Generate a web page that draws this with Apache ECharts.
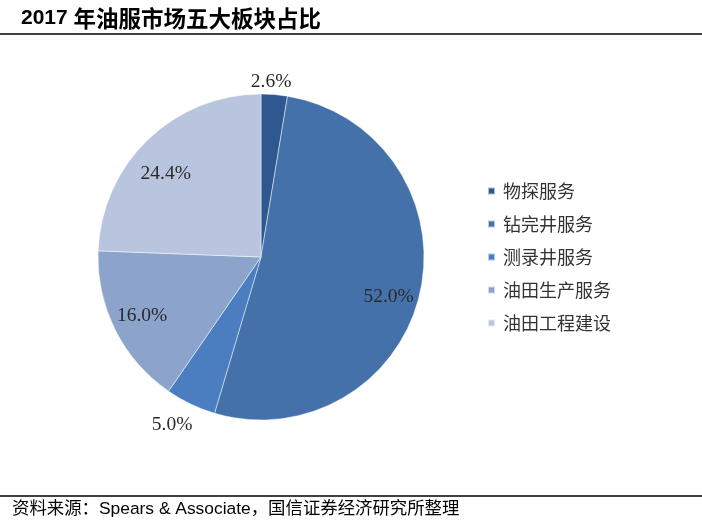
<!DOCTYPE html>
<html><head><meta charset="utf-8">
<script src="https://cdn.jsdelivr.net/npm/echarts@6/dist/echarts.min.js"></script>
<style>html,body{margin:0;padding:0;background:#fff}#c{width:702px;height:523px}</style>
</head><body><div id="c"></div>
<script>
const categories = ['物探服务', '钻完井服务', '测录井服务', '油田生产服务', '油田工程建设'];
const values = [2.6, 52.0, 5.0, 16.0, 24.4];
const labelText = ['2.6%', '52.0%', '5.0%', '16.0%', '24.4%'];
const colors = ['#2E5890', '#4471A9', '#4B7EC0', '#8CA3CC', '#B9C5DF'];
const outsideIdx = [0, 2];
const labelOffsets = [[-5, 9], [-2, 10], [-9, 1], [0, -1], [-3, 13]];

const chart = echarts.init(document.getElementById('c'));
const center = [261, 257];
const baseData = categories.map((n, i) => ({ name: n, value: values[i] }));
const labelFont = { fontFamily: 'Liberation Serif, Times New Roman, serif', fontSize: 19.5, color: '#2a2a2a' };

chart.setOption({
  animation: false,
  color: colors,
  title: {
    text: '{a|2017 }{b|年油服市场五大板块占比}',
    left: 16, top: 2,
    textStyle: {
      rich: {
        a: { fontFamily: 'Liberation Sans', fontSize: 21, fontWeight: 'bold', color: '#000' },
        b: { fontFamily: 'Noto Sans CJK SC', fontSize: 22.5, fontWeight: 'bold', color: '#000' }
      }
    }
  },
  legend: {
    orient: 'vertical',
    left: 482, top: 177,
    icon: 'rect',
    itemWidth: 7, itemHeight: 7,
    itemGap: 15,
    data: categories,
    textStyle: { fontFamily: 'Noto Sans CJK SC', fontSize: 18, color: '#333', padding: [0, 0, 0, 3] }
  },
  graphic: [
    { type: 'line', shape: { x1: 0, y1: 34, x2: 702, y2: 34 }, style: { stroke: '#000', lineWidth: 1.5 } },
    { type: 'line', shape: { x1: 0, y1: 496, x2: 702, y2: 496 }, style: { stroke: '#000', lineWidth: 1.5 } },
    { type: 'text', left: 12, top: 501, style: { text: '资料来源：Spears & Associate，国信证券经济研究所整理', font: '17.4px Liberation Sans, Noto Sans CJK SC', fill: '#000' } }
  ],
  series: [
    {
      type: 'pie', center: center, radius: 163, startAngle: 90, clockwise: true,
      label: { show: false }, labelLine: { show: false },
      itemStyle: { borderColor: 'rgba(255,255,255,0.6)', borderWidth: 0.8 },
      emphasis: { disabled: true },
      data: baseData
    },
    {
      type: 'pie', center: center, radius: 260, startAngle: 90, clockwise: true, silent: true,
      itemStyle: { color: 'rgba(0,0,0,0)' }, labelLine: { show: false },
      emphasis: { disabled: true },
      data: baseData.map((d, i) => ({ name: d.name, value: d.value,
        label: { show: outsideIdx.indexOf(i) < 0, position: 'inside', formatter: labelText[i], offset: labelOffsets[i], ...labelFont } }))
    },
    {
      type: 'pie', center: center, radius: 364, startAngle: 90, clockwise: true, silent: true,
      itemStyle: { color: 'rgba(0,0,0,0)' }, labelLine: { show: false },
      emphasis: { disabled: true },
      data: baseData.map((d, i) => ({ name: d.name, value: d.value,
        label: { show: outsideIdx.indexOf(i) >= 0, position: 'inside', formatter: labelText[i], offset: labelOffsets[i], ...labelFont } }))
    }
  ]
});
</script></body></html>
